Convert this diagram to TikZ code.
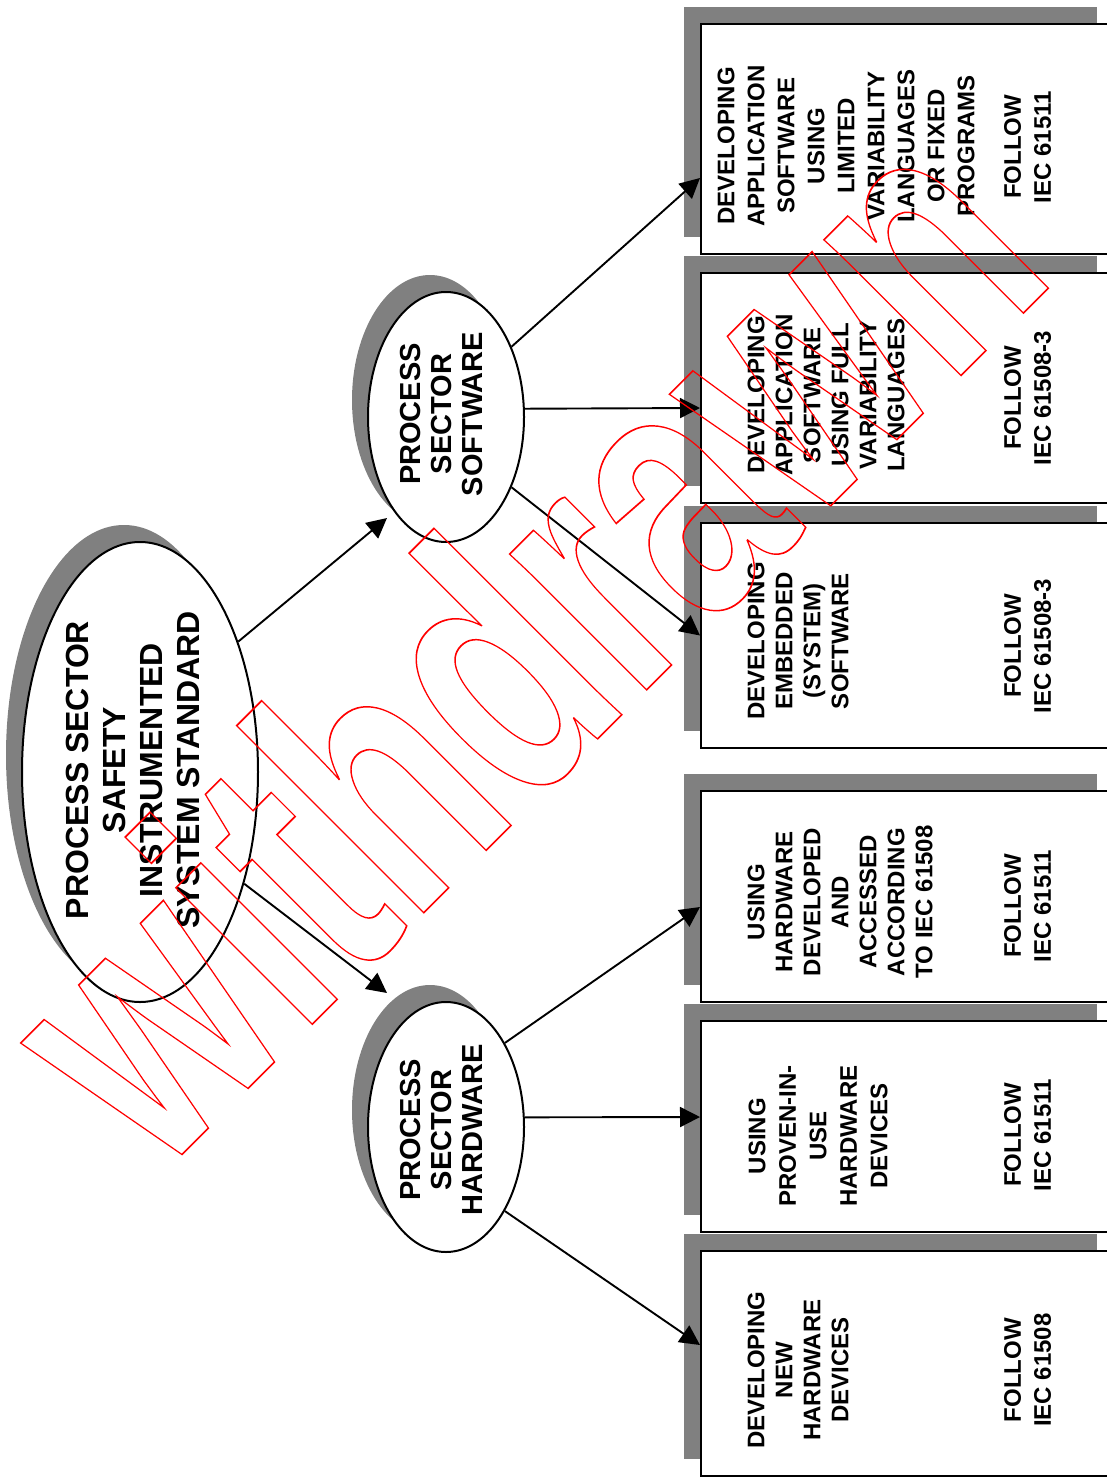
\documentclass[tikz,border=0pt]{standalone}
\usepackage{fontspec}
\setmainfont{Liberation Sans}
\usetikzlibrary{arrows.meta}
\usetikzlibrary{shapes.geometric}
\usetikzlibrary{shadows}

\definecolor{shadowgray}{RGB}{128,128,128}
% outlined (stroked, unfilled) text
\newcommand\wmoutline[1]{\special{pdf:literal direct 1 Tr 0.6 w}#1\special{pdf:literal direct 0 Tr}}

\tikzset{
  ell/.style={shape=ellipse, draw, line width=1pt, fill=white, inner sep=0pt,
    drop shadow={shadow xshift=-8pt, shadow yshift=8.5pt, fill=shadowgray, opacity=1}},
  box/.style={draw, line width=1pt, fill=white, inner sep=0pt, minimum width=206.5pt,
    drop shadow={shadow xshift=-8.5pt, shadow yshift=8.5pt, fill=shadowgray, opacity=1}},
  elltext/.style={rotate=90, align=center, inner sep=0pt},
  desc/.style={rotate=90, align=center, inner sep=0pt, font=\fontsize{12}{#1}\selectfont\bfseries},
  desc/.default=14,
  link/.style={line width=0.95pt, -{Triangle[length=10pt,width=10pt]}}
}

\begin{document}
\begin{tikzpicture}[x=0.5pt,y=-0.5pt]
  % Boundary
  \useasboundingbox (0,0) rectangle (1107,1477);
  % Ellipses
  \node[ell, minimum width=118pt, minimum height=230pt] (main) at (140,772) {};
  \node[ell, minimum width=78pt, minimum height=125pt] (sw) at (446,417) {};
  \node[ell, minimum width=78pt, minimum height=125pt] (hw) at (446,1127) {};
  \node[elltext, font=\fontsize{16}{18.5}\selectfont\bfseries] (mainlbl) at (133,770)
    {PROCESS SECTOR\\SAFETY\\INSTRUMENTED\\SYSTEM STANDARD};
  \node[elltext, font=\fontsize{14.5}{15.5}\selectfont\bfseries] (swlbl) at (442,414)
    {PROCESS\\SECTOR\\SOFTWARE};
  \node[elltext, font=\fontsize{14.5}{15.5}\selectfont\bfseries] (hwlbl) at (441,1130)
    {PROCESS\\SECTOR\\HARDWARE};
  % Boxes
  \foreach \n/\yc/\h/\yf/\std in {1/139/115/147/61511, 2/388/115/398/61508-3,
      3/635.5/112.5/646/61508-3, 4/896.5/105.5/906/61511,
      5/1126.5/105.5/1135/61511, 6/1363.5/112.5/1370/61508}{
    \node[box, minimum height=\h pt] (b\n) at (907.5,\yc) {};
    \node[desc=15] (f\n) at (1027.5,\yf) {FOLLOW\\IEC \std};
  }
  \node[desc=15] (d1) at (846,146)
    {DEVELOPING\\APPLICATION\\SOFTWARE\\USING\\LIMITED\\VARIABILITY\\LANGUAGES\\OR FIXED\\PROGRAMS};
  \node[desc] (d2) at (826,395)
    {DEVELOPING\\APPLICATION\\SOFTWARE\\USING FULL\\VARIABILITY\\LANGUAGES};
  \node[desc] (d3) at (798,641) {DEVELOPING\\EMBEDDED\\(SYSTEM)\\SOFTWARE};
  \node[desc] (d4) at (840,902)
    {USING\\HARDWARE\\DEVELOPED\\AND\\ACCESSED\\ACCORDING\\TO IEC 61508};
  \node[desc=15.25] (d5) at (818,1136) {USING\\PROVEN-IN-\\USE\\HARDWARE\\DEVICES};
  \node[desc] (d6) at (798,1370) {DEVELOPING\\NEW\\HARDWARE\\DEVICES};
  % Connectors
  \coordinate (swin) at (387,518);
  \coordinate (hwin) at (387,993);
  \draw[link] (main.53.5) -- (swin);
  \draw[link] (main.-47) -- (hwin);
  \draw[link] (sw.47.9) -- ([yshift=-19.5pt]b1.west);
  \draw[link] (sw.6.6) -- ([yshift=-10pt]b2.west);
  \draw[link] (sw.-47.5) -- (b3.west);
  \draw[link] (hw.55.9) -- ([yshift=-5.25pt]b4.west);
  \draw[link] (hw.7.3) -- ([yshift=4.75pt]b5.west);
  \draw[link] (hw.-55.5) -- ([yshift=9.25pt]b6.west);
  % Watermark
  \node[anchor=base west, inner sep=0pt, rotate=45, yscale=1.415, text=red,
    font=\fontsize{129}{160}\selectfont\bfseries] (wm) at (157.3,1179.2) {\wmoutline{withdrawn}};
\end{tikzpicture}
\end{document}
